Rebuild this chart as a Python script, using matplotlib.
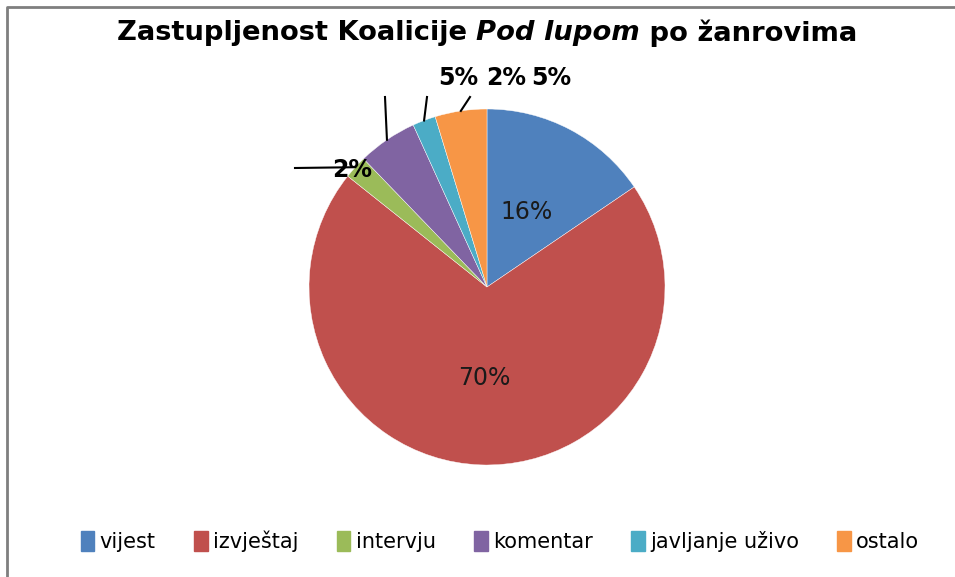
import numpy as np
import matplotlib.pyplot as plt

W, H = 955, 577

# data
genres = ['vijest', 'izvještaj', 'intervju', 'komentar', 'javljanje uživo', 'ostalo']
shares = [15.5, 70.2, 2.1, 5.4, 2.1, 4.7]
colors = ['#4F81BD', '#C0504D', '#9BBB59', '#8064A2', '#4BACC6', '#F79646']

# layout (pixels, y from top)
cx, cy, R = 487, 287, 178
inside_lbl = {0: (527, 212), 1: (484, 378)}
outside_lbl = {2: (352, 170), 3: (458, 78), 4: (506, 78), 5: (551, 78)}
line_end = {2: (295, 168), 3: (385, 97), 4: (427, 97), 5: (470, 97)}
title_w = 743

plt.rcParams['font.family'] = ['DejaVu Sans']

fig = plt.figure(figsize=(W / 100, H / 100), dpi=100)
ax = fig.add_axes([0, 0, 1, 1])

# chart frame (only top and left show in the picture)
ax.plot([7, 7, W + 5], [-5, H - 6.5, H - 6.5], color='#7F7F7F', lw=2, solid_capstyle='butt')

wedges, _ = ax.pie(shares, colors=colors, startangle=90, counterclock=False,
                   center=(cx, H - cy), radius=R, frame=True,
                   wedgeprops=dict(edgecolor='white', linewidth=0.3))
ax.set_xlim(0, W)
ax.set_ylim(0, H)
ax.set_aspect('auto')
ax.axis('off')

for i, (x, y) in inside_lbl.items():
    ax.text(x, H - y, f'{round(shares[i])}%', ha='center', va='center',
            fontsize=17, color='#1a1a1a')

for i, (x, y) in outside_lbl.items():
    w = wedges[i]
    mid = np.deg2rad((w.theta1 + w.theta2) / 2)
    ex, ey = cx + R * np.cos(mid), (H - cy) + R * np.sin(mid)
    lx, ly = line_end[i]
    ax.plot([ex, lx], [ey, H - ly], color='black', lw=1.5)
    ax.text(x, H - y, f'{round(shares[i])}%', ha='center', va='center',
            fontsize=17, fontweight='bold', color='black')

# title with italic part, scaled to the reference width
parts = [('Zastupljenost Koalicije ', 'normal'), ('Pod lupom', 'italic'), (' po žanrovima', 'normal')]
fig.canvas.draw()
rend = fig.canvas.get_renderer()
objs = [fig.text(0, 0, s, fontsize=22, fontweight='bold', style=st) for s, st in parts]
total = sum(t.get_window_extent(rend).width for t in objs)
fs = 22 * title_w / total
for t in objs:
    t.set_fontsize(fs)
widths = [t.get_window_extent(rend).width for t in objs]
x0 = 487 - sum(widths) / 2
for t, wd in zip(objs, widths):
    t.set_position((x0 / W, 1 - 33 / H))
    t.set_va('center')
    x0 += wd

handles = [plt.Rectangle((0, 0), 1, 1, facecolor=c, edgecolor=c) for c in colors]
fig.legend(handles, genres, loc='center', bbox_to_anchor=(500 / W, 1 - 541 / H),
           ncol=6, frameon=False, fontsize=15, handlelength=0.65, handleheight=1.1,
           handletextpad=0.25, columnspacing=1.85)

fig.savefig('out.png', dpi=100)
